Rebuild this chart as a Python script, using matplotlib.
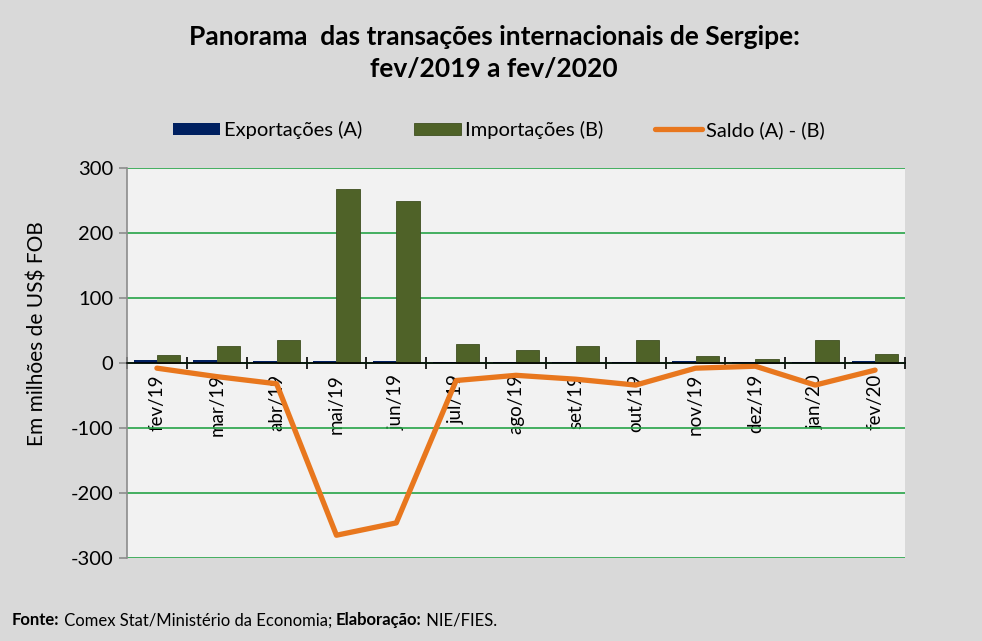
import numpy as np
import matplotlib
matplotlib.use("Agg")
from matplotlib import pyplot as plt
from matplotlib.ticker import MultipleLocator, FixedLocator

plt.rcParams['font.family'] = ['Lato', 'DejaVu Sans']
plt.rcParams['axes.unicode_minus'] = False

meses = ["fev/19", "mar/19", "abr/19", "mai/19", "jun/19", "jul/19", "ago/19",
         "set/19", "out/19", "nov/19", "dez/19", "jan/20", "fev/20"]
exportacoes = [5, 5, 3, 3, 3, 1.5, 1, 1, 1, 3, 1, 1, 3]
importacoes = [12, 26, 35, 268, 249, 29, 20, 26, 35, 11, 6, 35, 14]
saldo = [-8, -21, -32, -265, -246, -27, -19, -25, -34, -8, -5, -34, -11]

fig = plt.figure(figsize=(9.82, 6.41), dpi=100, facecolor="#d9d9d9")
ax = fig.add_axes([0.1293, 0.1295, 0.7923, 0.6085])
ax.set_facecolor("#f2f2f2")

x = np.arange(len(meses))
w = 0.39
b1 = ax.bar(x - w / 2, exportacoes, w, color="#002060", label="Exportações (A)", zorder=3)
b2 = ax.bar(x + w / 2, importacoes, w, color="#4f6228", edgecolor="#3f4f20", linewidth=0.6,
            label="Importações (B)", zorder=3)
l1, = ax.plot(x, saldo, color="#e8771e", lw=3.8, solid_capstyle="round", label="Saldo (A) - (B)", zorder=4)

ax.set_xlim(-0.5, len(meses) - 0.5)
ax.set_ylim(-300, 300)
ax.yaxis.set_major_locator(MultipleLocator(100))
ax.grid(axis="y", color="#27a347", lw=1.2, zorder=0)
ax.set_axisbelow(True)

# eixo x no zero
ax.spines["bottom"].set_position(("data", 0))
ax.spines["bottom"].set_color("black")
ax.spines["bottom"].set_linewidth(1.2)
ax.spines["top"].set_visible(False)
ax.spines["right"].set_visible(False)
ax.spines["left"].set_color("#8c8c8c")
ax.spines["left"].set_linewidth(1.2)
ax.spines["bottom"].set_zorder(5)

ax.set_xticks(x)
ax.set_xticklabels(meses, rotation=90, fontsize=13.5, va="top")
ax.tick_params(axis="x", which="major", length=0, pad=8)
ax.xaxis.set_minor_locator(FixedLocator(np.arange(-0.5, len(meses), 1.0)))
ax.tick_params(axis="x", which="minor", direction="inout", length=9, width=1.2, color="black")
ax.tick_params(axis="y", labelsize=14.5, color="#8c8c8c", length=6, width=1.2, pad=4)

fig.text(0.038, 0.48, "Em milhões de US$ FOB", rotation=90, ha="center", va="center", fontsize=15)

fig.text(0.503, 0.918, "Panorama  das transações internacionais de Sergipe:\nfev/2019 a fev/2020",
         ha="center", va="center", fontsize=19, fontweight="bold", linespacing=1.4)

fig.legend([b1, b2, l1], ["Exportações (A)", "Importações (B)", "Saldo (A) - (B)"],
           loc="center", bbox_to_anchor=(0.508, 0.797), ncol=3, frameon=False, fontsize=14.5,
           handlelength=2.3, handleheight=0.6, columnspacing=2.6, handletextpad=0.2)

# rodapé: partes em negrito e normal, colocadas em sequência
partes = [("Fonte:", "bold"), (" Comex Stat/Ministério da Economia; ", "normal"),
          ("Elaboração:", "bold"), (" NIE/FIES.", "normal")]
renderer = fig.canvas.get_renderer()
xpos = 12 / 982
for txt, peso in partes:
    t = fig.text(xpos, 0.032, txt, fontweight=peso, fontsize=12, va="center")
    bb = t.get_window_extent(renderer=renderer)
    xpos += bb.width / fig.bbox.width

fig.savefig("out.png", dpi=100, facecolor=fig.get_facecolor())
